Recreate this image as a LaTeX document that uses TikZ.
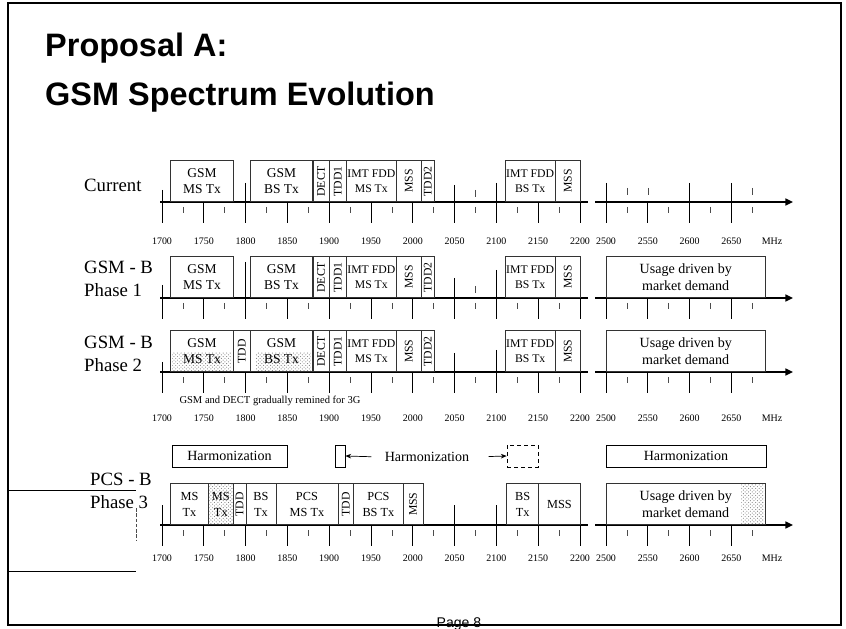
\documentclass[tikz,border=0pt]{standalone}
\usepackage{fontspec}
\setmainfont{Liberation Serif}
\newfontfamily\headfont{Liberation Sans}
\usetikzlibrary{arrows.meta, patterns}

% frequency (MHz) to picture x, left and right part of the axis
\pgfmathdeclarefunction{fL}{1}{\pgfmathparse{162+0.836*(#1-1700)}}
\pgfmathdeclarefunction{fR}{1}{\pgfmathparse{606+0.836*(#1-2500)}}

\begin{document}
\begin{tikzpicture}[
    x=0.03cm, y=-0.03cm,
    band/.style={rectangle, draw=black!80, line width=0.5pt, inner sep=0pt, minimum height=1.23cm, align=center, anchor=south west, font=\fontsize{11.5}{14}\selectfont},
    bandspan/.style 2 args={minimum width={(#2-#1)*0.02508cm}},
    imtfont/.style={font=\fontsize{10}{13.5}\selectfont},
    pcsfont/.style={font=\fontsize{10.5}{13.5}\selectfont},
    vtext/.style={rotate=90, inner sep=0pt, font=\fontsize{10}{12}\selectfont},
    usagefont/.style={font=\fontsize{12}{15}\selectfont},
    hatched/.style={pattern=crosshatch dots, pattern color=black!50},
    rowlabel/.style={anchor=west, align=left, inner sep=0pt, font=\fontsize{16}{19}\selectfont},
    freqlabel/.style={inner sep=1pt, font=\fontsize{8.5}{9}\selectfont},
    harmbox/.style={rectangle, draw, line width=0.6pt, minimum height=0.66cm, inner sep=0pt, font=\fontsize{12}{13}\selectfont},
    axisline/.style={line width=1.2pt},
    axisarrow/.style={line width=1.2pt, -{Triangle[length=6.5pt, width=6pt]}},
    majortick/.style={line width=0.8pt},
    minortick/.style={line width=0.5pt, black!70},
    harmarrow/.style={line width=0.6pt, -{Stealth[length=5pt, width=4pt]}}
]
\useasboundingbox (0,0) rectangle (846,629);

% Frame and title
\draw[line width=1pt] (8,3) rectangle (841,625);
\node[anchor=base west, inner sep=0pt, font=\headfont\bfseries\fontsize{27.7}{32}\selectfont] (title1) at (45,57) {Proposal A:};
\node[anchor=base west, inner sep=0pt, font=\headfont\bfseries\fontsize{27.7}{32}\selectfont] (title2) at (45,106) {GSM Spectrum Evolution};
\node[anchor=base, inner sep=0pt, font=\headfont\fontsize{12}{14}\selectfont] (page) at (459,627) {Page 8};

% Axes and ticks of the four rows
\foreach \y in {202,298,372,525} {
  \draw[axisline] (160,\y) -- (588,\y);
  \draw[axisarrow] (595,\y) -- (793,\y);
  \foreach \f in {1700,1750,...,2200} \draw[majortick] ({fL(\f)},\y) -- ++(0,21);
  \foreach \f in {1725,1775,...,2175} \draw[minortick] ({fL(\f)},\y) ++(0,5) -- ++(0,6);
  \foreach \f in {2500,2550,2600,2650} \draw[majortick] ({fR(\f)},\y) -- ++(0,21);
  \foreach \f in {2525,2575,2625,2675} \draw[minortick] ({fR(\f)},\y) ++(0,5) -- ++(0,6);
}

% Tick labels
\foreach \r/\y in {1/241,3/418,4/558} {
  \foreach \f in {1700,1750,...,2200} \node[freqlabel] (t\r-\f) at ({fL(\f)},\y) {\f};
  \foreach \f in {2500,2550,2600,2650} \node[freqlabel] (t\r-\f) at ({fR(\f)},\y) {\f};
  \node[freqlabel] (t\r-mhz) at (772,\y) {MHz};
}

% Current
\node[rowlabel] (cur) at (84,185) {Current};
\foreach \f/\t in {1700/190,1800/183,2050/185,2100/183} \draw[majortick] ({fL(\f)},\t) -- ({fL(\f)},202);
\foreach \f in {2500,2600,2650} \draw[majortick] ({fR(\f)},183) -- ({fR(\f)},202);
\foreach \f in {2525,2550,2675} \draw[minortick] ({fR(\f)},188) -- ({fR(\f)},195);
\draw[minortick] ({fL(2075)},190) -- ({fL(2075)},197);
\node[band, bandspan={1710}{1785}] (c-gsmms) at ({fL(1710)},202) {GSM\\MS Tx};
\node[band, bandspan={1805}{1880}] (c-gsmbs) at ({fL(1805)},202) {GSM\\BS Tx};
\node[band, bandspan={1880}{1900}, label={[vtext]center:DECT}] (c-dect) at ({fL(1880)},202) {};
\node[band, bandspan={1900}{1920}, label={[vtext]center:TDD1}] (c-tdd1) at ({fL(1900)},202) {};
\node[band, bandspan={1920}{1980}, imtfont] (c-imtms) at ({fL(1920)},202) {IMT FDD\\MS Tx};
\node[band, bandspan={1980}{2010}, label={[vtext]center:MSS}] (c-mss1) at ({fL(1980)},202) {};
\node[band, bandspan={2010}{2025}, label={[vtext]center:TDD2}] (c-tdd2) at ({fL(2010)},202) {};
\node[band, bandspan={2110}{2170}, imtfont] (c-imtbs) at ({fL(2110)},202) {IMT FDD\\BS Tx};
\node[band, bandspan={2170}{2200}, label={[vtext]center:MSS}] (c-mss2) at ({fL(2170)},202) {};

% GSM - B Phase 1
\node[rowlabel] (ph1) at (84,279) {GSM - B\\Phase 1};
\foreach \f/\t in {1700/285,1800/262,2050/278,2100/270} \draw[majortick] ({fL(\f)},\t) -- ({fL(\f)},298);
\draw[minortick] ({fL(2075)},286) -- ({fL(2075)},293);
\node[band, bandspan={1710}{1785}] (p1-gsmms) at ({fL(1710)},298) {GSM\\MS Tx};
\node[band, bandspan={1805}{1880}] (p1-gsmbs) at ({fL(1805)},298) {GSM\\BS Tx};
\node[band, bandspan={1880}{1900}, label={[vtext]center:DECT}] (p1-dect) at ({fL(1880)},298) {};
\node[band, bandspan={1900}{1920}, label={[vtext]center:TDD1}] (p1-tdd1) at ({fL(1900)},298) {};
\node[band, bandspan={1920}{1980}, imtfont] (p1-imtms) at ({fL(1920)},298) {IMT FDD\\MS Tx};
\node[band, bandspan={1980}{2010}, label={[vtext]center:MSS}] (p1-mss1) at ({fL(1980)},298) {};
\node[band, bandspan={2010}{2025}, label={[vtext]center:TDD2}] (p1-tdd2) at ({fL(2010)},298) {};
\node[band, bandspan={2110}{2170}, imtfont] (p1-imtbs) at ({fL(2110)},298) {IMT FDD\\BS Tx};
\node[band, bandspan={2170}{2200}, label={[vtext]center:MSS}] (p1-mss2) at ({fL(2170)},298) {};
\node[band, bandspan={2500}{2690}, usagefont] (p1-usage) at ({fR(2500)},298) {Usage driven by\\market demand};

% GSM - B Phase 2
\node[rowlabel] (ph2) at (84,354) {GSM - B\\Phase 2};
\foreach \f/\t in {1700/362,2050/353,2100/350} \draw[majortick] ({fL(\f)},\t) -- ({fL(\f)},372);
\fill[hatched] ({fL(1712)},353) rectangle ({fL(1783)},371);
\fill[hatched] ({fL(1812)},353) rectangle ({fL(1878)},371);
\node[band, bandspan={1710}{1785}] (p2-gsmms) at ({fL(1710)},372) {GSM\\MS Tx};
\node[band, bandspan={1785}{1805}, label={[vtext]center:TDD}] (p2-tdd) at ({fL(1785)},372) {};
\node[band, bandspan={1805}{1880}] (p2-gsmbs) at ({fL(1805)},372) {GSM\\BS Tx};
\node[band, bandspan={1880}{1900}, label={[vtext]center:DECT}] (p2-dect) at ({fL(1880)},372) {};
\node[band, bandspan={1900}{1920}, label={[vtext]center:TDD1}] (p2-tdd1) at ({fL(1900)},372) {};
\node[band, bandspan={1920}{1980}, imtfont] (p2-imtms) at ({fL(1920)},372) {IMT FDD\\MS Tx};
\node[band, bandspan={1980}{2010}, label={[vtext]center:MSS}] (p2-mss1) at ({fL(1980)},372) {};
\node[band, bandspan={2010}{2025}, label={[vtext]center:TDD2}] (p2-tdd2) at ({fL(2010)},372) {};
\node[band, bandspan={2110}{2170}, imtfont] (p2-imtbs) at ({fL(2110)},372) {IMT FDD\\BS Tx};
\node[band, bandspan={2170}{2200}, label={[vtext]center:MSS}] (p2-mss2) at ({fL(2170)},372) {};
\node[band, bandspan={2500}{2690}, usagefont] (p2-usage) at ({fR(2500)},372) {Usage driven by\\market demand};
\node[inner sep=0pt, font=\fontsize{9}{11}\selectfont] (p2-note) at (270,401) {GSM and DECT gradually remined for 3G};

% Harmonization
\node[harmbox, minimum width=3.45cm] (harm1) at (229.5,456) {Harmonization};
\node[harmbox, minimum width=0.3cm] (harm2) at (340,456) {};
\node[font=\fontsize{12}{13}\selectfont] (harmtxt) at (427,457) {Harmonization};
\node[harmbox, dashed, minimum width=0.93cm] (harm3) at (522.5,456) {};
\node[harmbox, minimum width=4.8cm] (harm4) at (686,456) {Harmonization};
\draw[harmarrow, shorten <=8pt] (harmtxt.west) -- (harm2.east);
\draw[harmarrow, shorten <=13pt] (harmtxt.east) -- (harm3.west);

% PCS - B Phase 3
\node[rowlabel] (ph3) at (90,491) {PCS - B\\Phase 3};
\draw[line width=0.8pt] (8,490) -- (136,490);
\draw[line width=0.8pt] (8,571) -- (136,571);
\draw[minortick, dash pattern=on 3pt off 1.5pt] (136,508) -- (136,541);
\foreach \f/\t in {1700/505,2050/505,2100/505,2200/503} \draw[majortick] ({fL(\f)},\t) -- ({fL(\f)},525);
\fill[hatched] ({fR(2662)},484) rectangle ({fR(2689)},524);
\node[band, bandspan={1710}{1755}, pcsfont] (p3-ms) at ({fL(1710)},525) {MS\\Tx};
\node[band, bandspan={1755}{1785}, pcsfont, hatched] (p3-ms2) at ({fL(1755)},525) {MS\\Tx};
\node[band, bandspan={1785}{1800}, label={[vtext]center:TDD}] (p3-tdd1) at ({fL(1785)},525) {};
\node[band, bandspan={1800}{1836}, pcsfont] (p3-bs) at ({fL(1800)},525) {BS\\Tx};
\node[band, bandspan={1836}{1910}, pcsfont] (p3-pcsms) at ({fL(1836)},525) {PCS\\MS Tx};
\node[band, bandspan={1910}{1929}, label={[vtext]center:TDD}] (p3-tdd2) at ({fL(1910)},525) {};
\node[band, bandspan={1929}{1988}, pcsfont] (p3-pcsbs) at ({fL(1929)},525) {PCS\\BS Tx};
\node[band, bandspan={1988}{2012}, label={[vtext]center:MSS}] (p3-mss1) at ({fL(1988)},525) {};
\node[band, bandspan={2112}{2150}, pcsfont] (p3-bs2) at ({fL(2112)},525) {BS\\Tx};
\node[band, bandspan={2150}{2200}, pcsfont] (p3-mss2) at ({fL(2150)},525) {MSS};
\node[band, bandspan={2500}{2690}, usagefont] (p3-usage) at ({fR(2500)},525) {Usage driven by\\market demand};

\end{tikzpicture}
\end{document}
